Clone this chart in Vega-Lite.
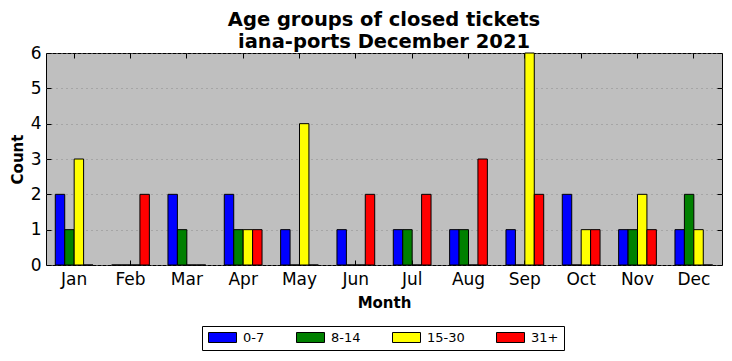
{
  "$schema": "https://vega.github.io/schema/vega-lite/v6.json",
  "width": 676,
  "height": 212,
  "autosize": {"type": "none"},
  "padding": {"left": 46, "top": 53, "right": 10, "bottom": 96},
  "background": "white",
  "title": {
    "text": ["Age groups of closed tickets", "iana-ports December 2021"],
    "font": "DejaVu Sans",
    "fontSize": 19.5,
    "fontWeight": "bold",
    "lineHeight": 22,
    "color": "black",
    "anchor": "middle",
    "offset": -8
  },
  "config": {
    "font": "DejaVu Sans",
    "view": {"fill": "#bfbfbf", "stroke": "black", "strokeWidth": 1}
  },
  "data": {
    "values": [
      {"month": "Jan", "group": "0-7", "count": 2},
      {"month": "Jan", "group": "8-14", "count": 1},
      {"month": "Jan", "group": "15-30", "count": 3},
      {"month": "Jan", "group": "31+", "count": 0},
      {"month": "Feb", "group": "0-7", "count": 0},
      {"month": "Feb", "group": "8-14", "count": 0},
      {"month": "Feb", "group": "15-30", "count": 0},
      {"month": "Feb", "group": "31+", "count": 2},
      {"month": "Mar", "group": "0-7", "count": 2},
      {"month": "Mar", "group": "8-14", "count": 1},
      {"month": "Mar", "group": "15-30", "count": 0},
      {"month": "Mar", "group": "31+", "count": 0},
      {"month": "Apr", "group": "0-7", "count": 2},
      {"month": "Apr", "group": "8-14", "count": 1},
      {"month": "Apr", "group": "15-30", "count": 1},
      {"month": "Apr", "group": "31+", "count": 1},
      {"month": "May", "group": "0-7", "count": 1},
      {"month": "May", "group": "8-14", "count": 0},
      {"month": "May", "group": "15-30", "count": 4},
      {"month": "May", "group": "31+", "count": 0},
      {"month": "Jun", "group": "0-7", "count": 1},
      {"month": "Jun", "group": "8-14", "count": 0},
      {"month": "Jun", "group": "15-30", "count": 0},
      {"month": "Jun", "group": "31+", "count": 2},
      {"month": "Jul", "group": "0-7", "count": 1},
      {"month": "Jul", "group": "8-14", "count": 1},
      {"month": "Jul", "group": "15-30", "count": 0},
      {"month": "Jul", "group": "31+", "count": 2},
      {"month": "Aug", "group": "0-7", "count": 1},
      {"month": "Aug", "group": "8-14", "count": 1},
      {"month": "Aug", "group": "15-30", "count": 0},
      {"month": "Aug", "group": "31+", "count": 3},
      {"month": "Sep", "group": "0-7", "count": 1},
      {"month": "Sep", "group": "8-14", "count": 0},
      {"month": "Sep", "group": "15-30", "count": 6},
      {"month": "Sep", "group": "31+", "count": 2},
      {"month": "Oct", "group": "0-7", "count": 2},
      {"month": "Oct", "group": "8-14", "count": 0},
      {"month": "Oct", "group": "15-30", "count": 1},
      {"month": "Oct", "group": "31+", "count": 1},
      {"month": "Nov", "group": "0-7", "count": 1},
      {"month": "Nov", "group": "8-14", "count": 1},
      {"month": "Nov", "group": "15-30", "count": 2},
      {"month": "Nov", "group": "31+", "count": 1},
      {"month": "Dec", "group": "0-7", "count": 1},
      {"month": "Dec", "group": "8-14", "count": 2},
      {"month": "Dec", "group": "15-30", "count": 1},
      {"month": "Dec", "group": "31+", "count": 0}
    ]
  },
  "resolve": {"axis": {"x": "independent", "y": "independent"}},
  "layer": [
    {
      "mark": {"type": "bar", "stroke": "black", "strokeWidth": 1},
      "encoding": {
        "x": {
          "field": "month",
          "type": "nominal",
          "sort": ["Jan","Feb","Mar","Apr","May","Jun","Jul","Aug","Sep","Oct","Nov","Dec"],
          "scale": {"paddingInner": 0.33, "paddingOuter": 0.165},
          "axis": {
            "title": "Month",
            "titleFontSize": 15,
            "titleFontWeight": "bold",
            "titleColor": "black",
            "titlePadding": 8,
            "labelAngle": 0,
            "labelFontSize": 17,
            "labelColor": "black",
            "labelPadding": 11,
            "domain": false,
            "tickColor": "black",
            "tickSize": -5,
            "grid": false
          }
        },
        "xOffset": {
          "field": "group",
          "type": "nominal",
          "sort": ["0-7","8-14","15-30","31+"],
          "scale": {"paddingInner": 0, "paddingOuter": 0}
        },
        "y": {
          "field": "count",
          "type": "quantitative",
          "scale": {"domain": [0, 6], "nice": false},
          "axis": {
            "title": "Count",
            "titleFontSize": 15,
            "titleFontWeight": "bold",
            "titleColor": "black",
            "titlePadding": 5,
            "values": [0,1,2,3,4,5,6],
            "labelFontSize": 17,
            "labelColor": "black",
            "labelPadding": 10,
            "domain": false,
            "tickColor": "black",
            "tickSize": -5,
            "grid": true,
            "gridColor": "#8a8a8a",
            "gridDash": [1, 4],
            "gridWidth": 1
          }
        },
        "color": {
          "field": "group",
          "type": "nominal",
          "sort": ["0-7","8-14","15-30","31+"],
          "scale": {"domain": ["0-7","8-14","15-30","31+"], "range": ["#0000ff","#008000","#ffff00","#ff0000"]},
          "legend": {
            "title": null,
            "orient": "none",
            "legendX": 156,
            "legendY": 273,
            "direction": "horizontal",
            "columns": 4,
            "gridAlign": "none",
            "columnPadding": 29,
            "padding": 5,
            "strokeColor": "black",
            "fillColor": "white",
            "symbolType": "M-2.8,-1H2.8V1H-2.8Z",
            "symbolSize": 100,
            "symbolOffset": 9,
            "symbolStrokeColor": "black",
            "symbolStrokeWidth": 1,
            "symbolOpacity": 1,
            "labelFontSize": 13,
            "labelColor": "black",
            "labelOffset": 14
          }
        }
      }
    },
    {
      "mark": {"type": "bar", "opacity": 0},
      "encoding": {
        "x": {
          "field": "month",
          "type": "nominal",
          "sort": ["Jan","Feb","Mar","Apr","May","Jun","Jul","Aug","Sep","Oct","Nov","Dec"],
          "axis": {
            "orient": "top",
            "title": null,
            "labels": false,
            "domain": false,
            "tickColor": "black",
            "tickSize": -5,
            "grid": false
          }
        },
        "xOffset": {
          "field": "group",
          "type": "nominal",
          "sort": ["0-7","8-14","15-30","31+"]
        },
        "y": {
          "field": "count",
          "type": "quantitative",
          "axis": {
            "orient": "right",
            "title": null,
            "labels": false,
            "values": [0,1,2,3,4,5,6],
            "domain": false,
            "tickColor": "black",
            "tickSize": -5,
            "grid": false
          }
        }
      }
    }
  ]
}
